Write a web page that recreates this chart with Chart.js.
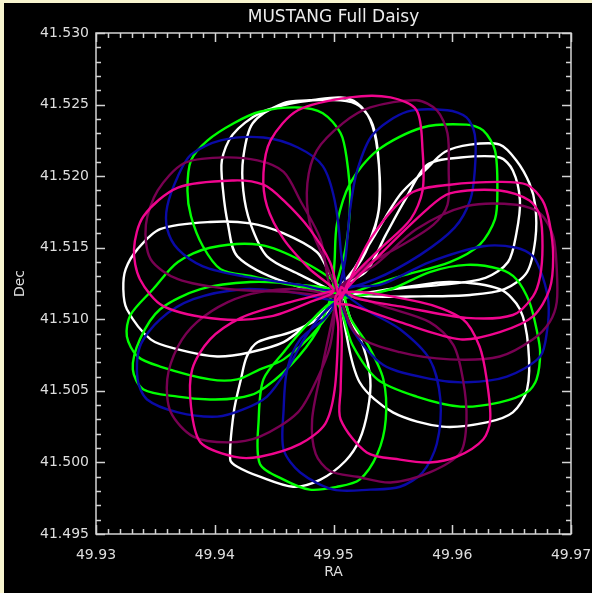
<!DOCTYPE html>
<html>
<head>
<meta charset="utf-8">
<title>MUSTANG Full Daisy</title>
<script src="https://cdn.jsdelivr.net/npm/chart.js@4.4.1/dist/chart.umd.min.js"></script>
<style>
  html, body { margin: 0; padding: 0; background: #000; }
  #wrap { width: 592px; height: 593px; }
</style>
</head>
<body>
<div id="wrap"><canvas id="daisy" width="592" height="593"></canvas></div>
<script>
// ── Data (RA / Dec in degrees; each petal starts and ends near the centre) ──

const whiteRA = [
  49.9504,
  49.9472, 49.9444, 49.9430, 49.9424, 49.9424, 49.9432, 49.9458, 49.9480, 49.9506, 49.9520, 49.9531, 49.9537, 49.9539, 49.9533, 49.9520,
  49.9500,
  49.9459, 49.9419, 49.9411, 49.9407, 49.9406, 49.9415, 49.9438, 49.9472, 49.9506, 49.9522, 49.9533, 49.9538, 49.9538, 49.9529, 49.9516,
  49.9507,
  49.9496, 49.9486, 49.9458, 49.9430, 49.9396, 49.9354, 49.9335, 49.9325, 49.9323, 49.9326, 49.9346, 49.9369, 49.9402, 49.9430, 49.9458, 49.9480,
  49.9502,
  49.9493, 49.9464, 49.9436, 49.9427, 49.9422, 49.9416, 49.9413, 49.9419, 49.9438, 49.9466, 49.9489, 49.9510, 49.9522, 49.9529, 49.9531, 49.9525, 49.9514,
  49.9506,
  49.9510, 49.9522, 49.9550, 49.9592, 49.9629, 49.9651, 49.9663, 49.9664, 49.9657, 49.9640, 49.9598, 49.9556,
  49.9504,
  49.9518, 49.9535, 49.9556, 49.9577, 49.9594, 49.9615, 49.9640, 49.9654, 49.9665, 49.9670, 49.9670, 49.9663, 49.9644, 49.9615, 49.9573, 49.9531,
  49.9500,
  49.9527, 49.9544, 49.9560, 49.9579, 49.9607, 49.9640, 49.9651, 49.9657, 49.9654, 49.9647, 49.9628, 49.9590, 49.9548,
  49.9507,
];
const whiteDec = [
  41.5118,
  41.5131, 41.5144, 41.5167, 41.5190, 41.5213, 41.5237, 41.5251, 41.5253, 41.5255, 41.5251, 41.5239, 41.5218, 41.5183, 41.5159, 41.5137,
  41.5120,
  41.5126, 41.5144, 41.5167, 41.5190, 41.5211, 41.5229, 41.5244, 41.5252, 41.5253, 41.5249, 41.5236, 41.5211, 41.5176, 41.5152, 41.5133,
  41.5115,
  41.5133, 41.5147, 41.5160, 41.5167, 41.5168, 41.5163, 41.5149, 41.5135, 41.5121, 41.5107, 41.5086, 41.5079, 41.5074, 41.5077, 41.5084, 41.5098,
  41.5112,
  41.5103, 41.5091, 41.5084, 41.5074, 41.5058, 41.5035, 41.5002, 41.4997, 41.4990, 41.4983, 41.4988, 41.5001, 41.5016, 41.5037, 41.5058, 41.5081, 41.5101,
  41.5122,
  41.5093, 41.5056, 41.5035, 41.5025, 41.5028, 41.5035, 41.5051, 41.5081, 41.5107, 41.5121, 41.5126, 41.5122,
  41.5118,
  41.5136, 41.5159, 41.5187, 41.5204, 41.5217, 41.5222, 41.5222, 41.5211, 41.5195, 41.5179, 41.5156, 41.5133, 41.5121, 41.5117, 41.5116, 41.5116,
  41.5120,
  41.5133, 41.5159, 41.5183, 41.5208, 41.5213, 41.5213, 41.5204, 41.5183, 41.5160, 41.5140, 41.5129, 41.5124, 41.5121,
  41.5115,
];

const greenRA = [
  49.9504,
  49.9464, 49.9432, 49.9405, 49.9390, 49.9380, 49.9377, 49.9380, 49.9394, 49.9416, 49.9438, 49.9470, 49.9491, 49.9506, 49.9511, 49.9514, 49.9510,
  49.9500,
  49.9501, 49.9503, 49.9514, 49.9537, 49.9575, 49.9612, 49.9626, 49.9636, 49.9638, 49.9636, 49.9623, 49.9598, 49.9556, 49.9527,
  49.9507,
  49.9548, 49.9581, 49.9612, 49.9640, 49.9654, 49.9665, 49.9671, 49.9674, 49.9671, 49.9663, 49.9640, 49.9607, 49.9570, 49.9537, 49.9516,
  49.9502,
  49.9480, 49.9458, 49.9441, 49.9437, 49.9438, 49.9458, 49.9480, 49.9503, 49.9522, 49.9537, 49.9544, 49.9542, 49.9529, 49.9514,
  49.9506,
  49.9475, 49.9438, 49.9396, 49.9369, 49.9348, 49.9329, 49.9326, 49.9335, 49.9354, 49.9396, 49.9419, 49.9438, 49.9458, 49.9486,
  49.9504,
  49.9472, 49.9430, 49.9388, 49.9354, 49.9337, 49.9331, 49.9340, 49.9369, 49.9396, 49.9419, 49.9436, 49.9464, 49.9487,
  49.9500,
];
const greenDec = [
  41.5118,
  41.5124, 41.5130, 41.5135, 41.5151, 41.5172, 41.5190, 41.5211, 41.5225, 41.5237, 41.5245, 41.5248, 41.5244, 41.5230, 41.5213, 41.5183, 41.5149,
  41.5120,
  41.5142, 41.5167, 41.5195, 41.5218, 41.5234, 41.5236, 41.5232, 41.5218, 41.5190, 41.5170, 41.5152, 41.5140, 41.5130, 41.5122,
  41.5115,
  41.5121, 41.5133, 41.5138, 41.5135, 41.5128, 41.5112, 41.5093, 41.5077, 41.5058, 41.5049, 41.5042, 41.5039, 41.5046, 41.5058, 41.5082,
  41.5112,
  41.5098, 41.5077, 41.5058, 41.5030, 41.4999, 41.4988, 41.4981, 41.4983, 41.4988, 41.5006, 41.5030, 41.5058, 41.5082, 41.5101,
  41.5122,
  41.5140, 41.5152, 41.5150, 41.5140, 41.5121, 41.5103, 41.5088, 41.5074, 41.5067, 41.5058, 41.5058, 41.5065, 41.5072, 41.5093,
  41.5118,
  41.5124, 41.5126, 41.5121, 41.5107, 41.5086, 41.5065, 41.5051, 41.5046, 41.5044, 41.5045, 41.5049, 41.5068, 41.5093,
  41.5120,
];

const blueRA = [
  49.9504,
  49.9510, 49.9514, 49.9520, 49.9533, 49.9562, 49.9596, 49.9612, 49.9619, 49.9619, 49.9615, 49.9602, 49.9573, 49.9535,
  49.9500,
  49.9472, 49.9424, 49.9390, 49.9369, 49.9360, 49.9360, 49.9369, 49.9380, 49.9405, 49.9441, 49.9470, 49.9491, 49.9501, 49.9506,
  49.9507,
  49.9464, 49.9424, 49.9382, 49.9354, 49.9337, 49.9335, 49.9343, 49.9369, 49.9402, 49.9424, 49.9444, 49.9461, 49.9475, 49.9490,
  49.9502,
  49.9493, 49.9472, 49.9461, 49.9458, 49.9458, 49.9472, 49.9500, 49.9531, 49.9556, 49.9575, 49.9587, 49.9590, 49.9581, 49.9556, 49.9527,
  49.9506,
  49.9539, 49.9581, 49.9626, 49.9654, 49.9668, 49.9676, 49.9681, 49.9680, 49.9674, 49.9646, 49.9612, 49.9584, 49.9542, 49.9514,
  49.9504,
];
const blueDec = [
  41.5118,
  41.5142, 41.5177, 41.5204, 41.5229, 41.5245, 41.5246, 41.5241, 41.5229, 41.5204, 41.5183, 41.5164, 41.5145, 41.5128,
  41.5120,
  41.5124, 41.5130, 41.5137, 41.5149, 41.5163, 41.5179, 41.5200, 41.5215, 41.5225, 41.5227, 41.5220, 41.5207, 41.5183, 41.5149,
  41.5115,
  41.5119, 41.5121, 41.5114, 41.5100, 41.5081, 41.5058, 41.5044, 41.5035, 41.5032, 41.5037, 41.5046, 41.5065, 41.5086, 41.5103,
  41.5112,
  41.5101, 41.5086, 41.5065, 41.5037, 41.5009, 41.4993, 41.4981, 41.4981, 41.4983, 41.4993, 41.5013, 41.5044, 41.5072, 41.5093, 41.5107,
  41.5122,
  41.5124, 41.5140, 41.5151, 41.5150, 41.5144, 41.5130, 41.5112, 41.5093, 41.5074, 41.5060, 41.5056, 41.5058, 41.5068, 41.5095,
  41.5118,
];

const purpleRA = [
  49.9504,
  49.9491, 49.9480, 49.9478, 49.9486, 49.9508, 49.9531, 49.9570, 49.9587, 49.9596, 49.9597, 49.9596, 49.9584, 49.9556, 49.9528,
  49.9500,
  49.9489, 49.9472, 49.9458, 49.9436, 49.9405, 49.9374, 49.9352, 49.9342, 49.9346, 49.9369, 49.9413, 49.9464,
  49.9507,
  49.9472, 49.9438, 49.9411, 49.9385, 49.9369, 49.9360, 49.9363, 49.9382, 49.9411, 49.9438, 49.9470, 49.9486, 49.9497,
  49.9502,
  49.9499, 49.9490, 49.9482, 49.9485, 49.9497, 49.9520, 49.9548, 49.9581, 49.9607, 49.9612, 49.9609, 49.9601, 49.9581, 49.9539,
  49.9506,
  49.9535, 49.9570, 49.9612, 49.9654, 49.9674, 49.9685, 49.9688, 49.9688, 49.9682, 49.9668, 49.9640, 49.9598, 49.9556, 49.9520,
  49.9504,
];
const purpleDec = [
  41.5118,
  41.5144, 41.5167, 41.5195, 41.5218, 41.5237, 41.5248, 41.5253, 41.5246, 41.5230, 41.5204, 41.5180, 41.5166, 41.5151, 41.5138,
  41.5120,
  41.5156, 41.5183, 41.5203, 41.5211, 41.5213, 41.5209, 41.5190, 41.5166, 41.5142, 41.5128, 41.5121, 41.5119,
  41.5115,
  41.5121, 41.5119, 41.5112, 41.5098, 41.5081, 41.5058, 41.5035, 41.5018, 41.5014, 41.5018, 41.5035, 41.5058, 41.5081,
  41.5112,
  41.5100, 41.5065, 41.5030, 41.5006, 41.4994, 41.4990, 41.4986, 41.4993, 41.5007, 41.5030, 41.5058, 41.5082, 41.5098, 41.5110,
  41.5122,
  41.5138, 41.5163, 41.5179, 41.5180, 41.5174, 41.5158, 41.5135, 41.5112, 41.5098, 41.5086, 41.5074, 41.5072, 41.5077, 41.5089,
  41.5118,
];

const pinkRA = [
  49.9504,
  49.9497, 49.9480, 49.9458, 49.9441, 49.9416, 49.9369, 49.9340, 49.9332, 49.9337, 49.9357, 49.9405, 49.9447, 49.9480,
  49.9500,
  49.9480, 49.9458, 49.9444, 49.9441, 49.9447, 49.9470, 49.9514, 49.9548, 49.9570, 49.9575, 49.9575, 49.9565, 49.9539, 49.9514,
  49.9507,
  49.9531, 49.9565, 49.9598, 49.9640, 49.9663, 49.9676, 49.9682, 49.9685, 49.9682, 49.9668, 49.9640, 49.9607, 49.9556, 49.9514,
  49.9502,
  49.9539, 49.9579, 49.9598, 49.9640, 49.9665, 49.9674, 49.9676, 49.9674, 49.9668, 49.9651, 49.9612, 49.9556, 49.9518,
  49.9506,
  49.9507, 49.9506, 49.9506, 49.9528, 49.9556, 49.9581, 49.9604, 49.9626, 49.9632, 49.9629, 49.9623, 49.9609, 49.9573,
  49.9504,
  49.9504, 49.9501, 49.9493, 49.9472, 49.9438, 49.9416, 49.9388, 49.9380, 49.9381, 49.9396, 49.9422, 49.9455,
  49.9500,
];
const pinkDec = [
  41.5118,
  41.5140, 41.5163, 41.5183, 41.5194, 41.5197, 41.5192, 41.5172, 41.5149, 41.5128, 41.5109, 41.5100, 41.5102, 41.5112,
  41.5120,
  41.5135, 41.5156, 41.5179, 41.5202, 41.5225, 41.5246, 41.5255, 41.5255, 41.5246, 41.5218, 41.5190, 41.5170, 41.5149, 41.5128,
  41.5115,
  41.5156, 41.5188, 41.5194, 41.5196, 41.5194, 41.5183, 41.5167, 41.5144, 41.5121, 41.5102, 41.5091, 41.5086, 41.5098, 41.5110,
  41.5112,
  41.5145, 41.5177, 41.5188, 41.5190, 41.5183, 41.5172, 41.5151, 41.5130, 41.5116, 41.5103, 41.5101, 41.5109, 41.5115,
  41.5122,
  41.5086, 41.5051, 41.5030, 41.5007, 41.5002, 41.5000, 41.5004, 41.5016, 41.5030, 41.5058, 41.5081, 41.5100, 41.5112,
  41.5118,
  41.5093, 41.5051, 41.5027, 41.5013, 41.5004, 41.5004, 41.5014, 41.5039, 41.5065, 41.5086, 41.5101, 41.5110,
  41.5120,
];

const xTicks = [49.93, 49.94, 49.95, 49.96, 49.97];
const yTicks = [41.495, 41.500, 41.505, 41.510, 41.515, 41.520, 41.525, 41.530];

// ── Chart ─────────────────────────────────────────────────────────────────────

const FONT = 'DejaVu Sans, Liberation Sans, sans-serif';
const TEXT = '#dedede';

function toPoints(ra, dec) {
  return ra.map((x, i) => ({ x, y: dec[i] }));
}

function trace(label, ra, dec, color, order) {
  return {
    label,
    data: toPoints(ra, dec),
    showLine: true,
    borderColor: color,
    borderWidth: 2.4,
    pointRadius: 0,
    tension: 0.3,
    fill: false,
    order,
  };
}

// black page with the pale yellow strip along the top and left edge, then
// IDL-style box with inward major/minor ticks on all four sides
const boxPlugin = {
  id: 'idlBox',
  beforeDraw(chart) {
    const { ctx, width, height } = chart;
    ctx.save();
    ctx.fillStyle = '#f8f5cf';
    ctx.fillRect(0, 0, width, height);
    ctx.fillStyle = '#000';
    ctx.fillRect(4, 3, width - 4, height - 3);
    ctx.restore();
  },
  afterDatasetsDraw(chart) {
    const { ctx, chartArea: a, scales: { x, y } } = chart;
    ctx.save();
    ctx.strokeStyle = '#d4d4d4';
    ctx.lineWidth = 1.5;
    ctx.strokeRect(a.left, a.top, a.right - a.left, a.bottom - a.top);
    ctx.beginPath();
    for (let i = 0; i <= 40; i++) {
      const px = Math.round(x.getPixelForValue(xTicks[0] + i * 0.001)) + 0.5;
      const len = i % 10 === 0 ? 9 : 5;
      ctx.moveTo(px, a.bottom); ctx.lineTo(px, a.bottom - len);
      ctx.moveTo(px, a.top);    ctx.lineTo(px, a.top + len);
    }
    for (let i = 0; i <= 35; i++) {
      const py = Math.round(y.getPixelForValue(yTicks[0] + i * 0.001)) + 0.5;
      const len = i % 5 === 0 ? 9 : 5;
      ctx.moveTo(a.left, py);  ctx.lineTo(a.left + len, py);
      ctx.moveTo(a.right, py); ctx.lineTo(a.right - len, py);
    }
    ctx.stroke();
    ctx.restore();
  },
};

new Chart(document.getElementById('daisy'), {
  type: 'scatter',
  data: {
    datasets: [
      trace('white',  whiteRA,  whiteDec,  '#ffffff', 5),
      trace('green',  greenRA,  greenDec,  '#00ff00', 4),
      trace('blue',   blueRA,   blueDec,   '#0a0aa6', 3),
      trace('purple', purpleRA, purpleDec, '#780052', 2),
      trace('pink',   pinkRA,   pinkDec,   '#f0058e', 1),
    ],
  },
  options: {
    responsive: false,
    animation: false,
    layout: { padding: { left: 0, right: 21, top: 0, bottom: 0 } },
    plugins: {
      legend: { display: false },
      tooltip: { enabled: false },
      title: {
        display: true,
        text: 'MUSTANG Full Daisy',
        color: '#ececec',
        fullSize: false,
        font: { family: FONT, size: 17, weight: 'normal' },
        padding: { top: 7, bottom: 5.6 },
      },
    },
    scales: {
      x: {
        type: 'linear',
        min: xTicks[0],
        max: xTicks[xTicks.length - 1],
        grid:   { display: false, drawTicks: false },
        border: { display: false },
        afterBuildTicks: (s) => { s.ticks = xTicks.map((v) => ({ value: v })); },
        ticks: {
          padding: 13,
          color: TEXT,
          maxRotation: 0,
          autoSkip: false,
          font: { family: FONT, size: 14 },
          callback: (v) => Number(v).toFixed(2),
        },
        title: {
          display: true,
          text: 'RA',
          color: TEXT,
          font: { family: FONT, size: 14 },
          padding: { top: 0, bottom: 12 },
        },
        afterFit: (s) => { s.height = 59; s.paddingLeft = 0; s.paddingRight = 0; },
      },
      y: {
        type: 'linear',
        min: yTicks[0],
        max: yTicks[yTicks.length - 1],
        grid:   { display: false, drawTicks: false },
        border: { display: false },
        afterBuildTicks: (s) => { s.ticks = yTicks.map((v) => ({ value: v })); },
        ticks: {
          padding: 7,
          color: TEXT,
          autoSkip: false,
          font: { family: FONT, size: 14 },
          callback: (v) => Number(v).toFixed(3),
        },
        title: {
          display: true,
          text: 'Dec',
          color: TEXT,
          font: { family: FONT, size: 14 },
          padding: { top: 12, bottom: 0 },
        },
        afterFit: (s) => { s.width = 96; s.paddingTop = 0; s.paddingBottom = 0; },
      },
    },
  },
  plugins: [boxPlugin],
});
</script>
</body>
</html>
